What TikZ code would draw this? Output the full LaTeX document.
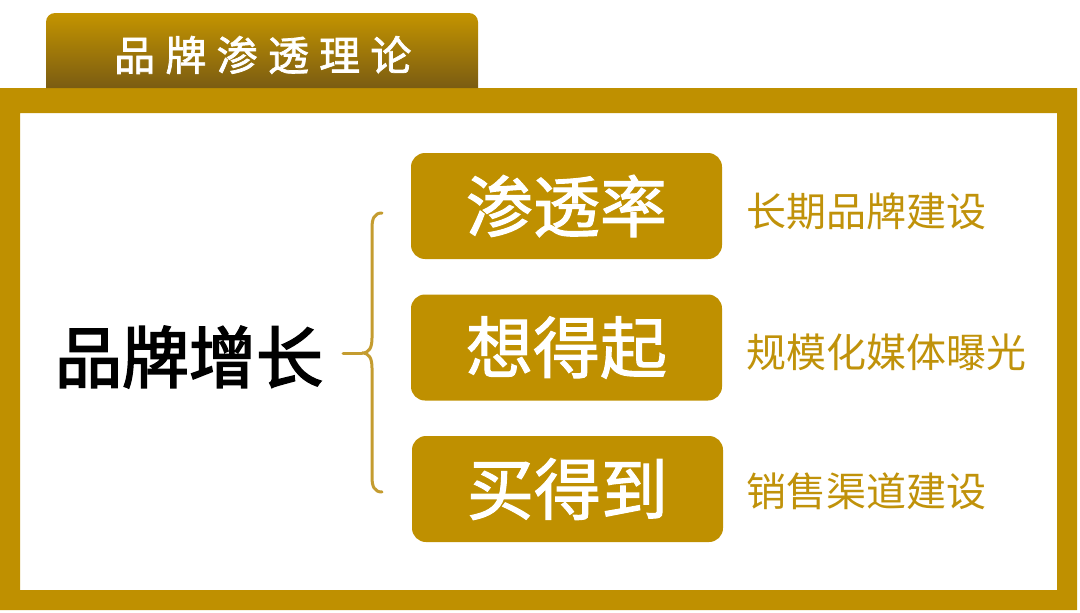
\documentclass[tikz,border=0pt]{standalone}
\usepackage{fontspec}
\newfontfamily\cjk{Noto Sans CJK SC}
\newfontfamily\cjkmed{Noto Sans CJK SC}[FakeBold=1.6]
\newfontfamily\cjkheavy{Noto Sans CJK SC}[FakeBold=2.6]
\newfontfamily\cjkwide{Noto Sans CJK SC}[LetterSpace=25,FakeBold=1.8]
\usetikzlibrary{positioning}
\definecolor{gold}{RGB}{191,144,0}
\definecolor{tabtop}{RGB}{196,148,0}
\definecolor{tabmid}{RGB}{178,134,4}
\definecolor{tabbot}{RGB}{122,92,18}
\definecolor{bracegold}{RGB}{196,156,48}
\definecolor{notegold}{RGB}{192,146,10}

\begin{document}
\begin{tikzpicture}[x=1pt,y=-1pt]
		\tikzstyle{pill}=[fill=gold,rounded corners=14pt,minimum width=311pt,minimum height=106pt,inner sep=0pt,text=white,font=\cjkmed\fontsize{67}{67}\selectfont]
		\tikzstyle{note}=[anchor=west,inner sep=0pt,text=notegold,font=\cjk\fontsize{40}{40}\selectfont]
		\tikzstyle{root}=[inner sep=0pt,text=black,font=\cjkheavy\fontsize{67}{67}\selectfont]
		\tikzstyle{tabtext}=[anchor=west,inner sep=0pt,text=white,font=\cjkwide\fontsize{41}{41}\selectfont]
		\tikzstyle{brace}=[bracegold,line width=3pt,line cap=round]
		
		\useasboundingbox (0,0) rectangle (1080,613);
		
		% frame and tab
		\fill[gold,even odd rule] (0,88) rectangle (1077,610) (20,113) rectangle (1057,590);
		\shade[top color=tabtop,middle color=tabmid,bottom color=tabbot] (46,88) [rounded corners=9pt] -- (46,13) -- (478,13) [sharp corners] -- (478,88) -- cycle;
		\node[tabtext] (title) at (114,55) {品牌渗透理论};
		
		\node[root] (brand) at (189,357) {品牌增长};
		
		\node[pill] (pen) at (566.5,206) {渗透率};
		\node[pill] (rec) at (566.5,347.5) {想得起};
		\node[pill] (buy) at (567.5,489) {买得到};
		
		\node[note] (penn) at (746,211) {长期品牌建设};
		\node[note] (recn) at (746,352) {规模化媒体曝光};
		\node[note] (buyn) at (746,491) {销售渠道建设};
		
		% brace
		\coordinate (btop) at (382,213);
		\coordinate (bbot) at (382,492);
		\coordinate (bmid) at (362,353);
		\coordinate (bstub) at (343,353);
		\draw[brace] (btop) .. controls (374,213) and (372,219) .. (372,228) -- (372,338) .. controls (372,348) and (369,353) .. (bmid) .. controls (369,353) and (372,358) .. (372,368) -- (372,477) .. controls (372,486) and (374,492) .. (bbot);
		\draw[brace] (bstub) -- (bmid);
\end{tikzpicture}
\end{document}
